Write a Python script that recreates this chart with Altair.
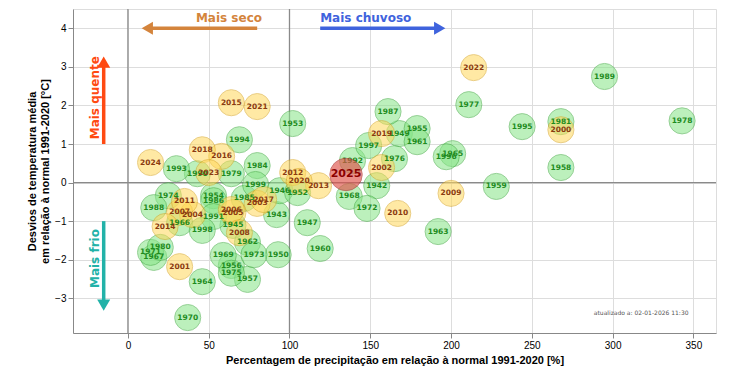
import altair as alt
import pandas as pd

# ---- data ----
years = [1942, 1943, 1945, 1946, 1947, 1949, 1950, 1952, 1953, 1954, 1955, 1956,
         1957, 1958, 1959, 1960, 1961, 1962, 1963, 1964, 1965, 1966, 1967, 1968,
         1969, 1970, 1971, 1972, 1973, 1974, 1975, 1976, 1977, 1978, 1979, 1980,
         1981, 1984, 1985, 1986, 1987, 1988, 1989, 1990, 1991, 1992, 1993, 1994,
         1995, 1996, 1997, 1998, 1999, 2000, 2001, 2002, 2003, 2004, 2005, 2006,
         2007, 2008, 2009, 2010, 2011, 2012, 2013, 2014, 2015, 2016, 2017, 2018,
         2019, 2020, 2021, 2022, 2023, 2024, 2025]
precip = [154, 92, 65, 94, 111, 168, 93, 105, 102, 53, 179, 64,
          74, 268, 228, 119, 179, 74, 192, 46, 201, 32, 16, 137,
          59, 37, 14, 148, 78, 25, 64, 165, 211, 343, 64, 20,
          268, 80, 72, 53, 161, 16, 295, 43, 53, 139, 30, 69,
          244, 197, 149, 46, 79, 268, 32, 157, 80, 40, 65, 64,
          32, 69, 200, 167, 35, 102, 118, 23, 64, 58, 84, 46,
          157, 106, 80, 214, 50, 14, 135]
temp = [-0.08, -0.83, -1.11, -0.21, -1.04, 1.27, -1.87, -0.26, 1.53, -0.34, 1.40, -2.15,
        -2.51, 0.39, -0.10, -1.71, 1.06, -1.55, -1.27, -2.57, 0.75, -1.04, -1.94, -0.36,
        -1.89, -3.50, -1.81, -0.67, -1.87, -0.34, -2.35, 0.62, 2.02, 1.60, 0.23, -1.68,
        1.58, 0.44, -0.41, -0.47, 1.84, -0.65, 2.75, 0.23, -0.88, 0.57, 0.36, 1.11,
        1.45, 0.67, 0.96, -1.24, -0.05, 1.37, -2.18, 0.39, -0.54, -0.83, -0.78, -0.70,
        -0.77, -1.30, -0.28, -0.80, -0.49, 0.26, -0.08, -1.14, 2.07, 0.68, -0.44, 0.85,
        1.27, 0.03, 1.97, 2.98, 0.26, 0.52, 0.21]

x_ticks = [0, 50, 100, 150, 200, 250, 300, 350]
y_ticks = [-3, -2, -1, 0, 1, 2, 3, 4]
ref_x = [0, 100]
ref_y = [0]

x_title = "Percentagem de precipitação em relação à normal 1991-2020 [%]"
y_title = ["Desvios de temperatura média", "em relação à normal 1991-2020 [°C]"]
stamp = "atualizado a: 02-01-2026 11:30"

# arrows: label, color, start x, start y, end x, end y, head shape, text x, text y, text align, angle
arr_labels = ["Mais seco", "Mais chuvoso", "Mais quente", "Mais frio"]
arr_colors = ["#D4843C", "#3F63DD", "#FF4A12", "#22B2A8"]
arr_x0 = [80, 119, -15, -15]
arr_y0 = [4.0, 4.0, 1.0, -1.0]
arr_x1 = [12, 193, -15, -15]
arr_y1 = [4.0, 4.0, 3.12, -3.18]
arr_shape = ["triangle-left", "triangle-right", "triangle-up", "triangle-down"]
txt_x = [83, 119, -20.5, -20.5]
txt_y = [4.27, 4.27, 2.2, -1.97]
txt_align = ["right", "left", "center", "center"]
txt_angle = [0, 0, 270, 270]

# ---- tables ----
df = pd.DataFrame({"year": years, "precip": precip, "temp": temp})
df["label"] = df["year"].astype(str)
df["grp"] = ["atual" if y == 2025 else ("recente" if y >= 2000 else "antigo") for y in years]
df_main = df[df["grp"] != "atual"]
df_now = df[df["grp"] == "atual"]

arrows = pd.DataFrame({"label": arr_labels, "color": arr_colors, "x0": arr_x0, "y0": arr_y0,
                       "x1": arr_x1, "y1": arr_y1, "shape": arr_shape, "tx": txt_x, "ty": txt_y,
                       "align": txt_align, "angle": txt_angle})

xs = alt.Scale(domain=[-34, 364], nice=False, zero=False)
ys = alt.Scale(domain=[-3.9, 4.5], nice=False, zero=False)

X = lambda f: alt.X(f, type="quantitative", scale=xs,
                    axis=alt.Axis(values=x_ticks, title=x_title, format="d"))
Y = lambda f: alt.Y(f, type="quantitative", scale=ys,
                    axis=alt.Axis(values=y_ticks, title=y_title, format="d"))

grp_dom = ["antigo", "recente"]

vrules = alt.Chart(pd.DataFrame({"x": ref_x})).mark_rule(color="#8a8a8a", strokeWidth=1.3).encode(x=X("x"))
hrules = alt.Chart(pd.DataFrame({"y": ref_y})).mark_rule(color="#8a8a8a", strokeWidth=1.3).encode(y=Y("y"))

circles = alt.Chart(df_main).mark_circle(size=680, opacity=0.55, strokeWidth=1).encode(
    x=X("precip"), y=Y("temp"),
    fill=alt.Fill("grp:N", scale=alt.Scale(domain=grp_dom, range=["#86E486", "#FFD85A"]), legend=None),
    stroke=alt.Stroke("grp:N", scale=alt.Scale(domain=grp_dom, range=["#3DAA3D", "#D9A520"]), legend=None),
    order=alt.Order("year:Q"),
)
labels = alt.Chart(df_main).mark_text(fontSize=7.5, fontWeight="bold", font="DejaVu Sans").encode(
    x=X("precip"), y=Y("temp"), text="label:N",
    color=alt.Color("grp:N", scale=alt.Scale(domain=grp_dom, range=["#1E8C1E", "#8B3A10"]), legend=None),
)
now_c = alt.Chart(df_now).mark_circle(size=1050, opacity=0.65, color="#E0524A",
                                      stroke="#B03030", strokeWidth=1).encode(x=X("precip"), y=Y("temp"))
now_t = alt.Chart(df_now).mark_text(fontSize=11, fontWeight="bold", font="DejaVu Sans",
                                    color="#8B0000").encode(x=X("precip"), y=Y("temp"), text="label:N")

shafts = alt.Chart(arrows).mark_rule(strokeWidth=3.5).encode(
    x=X("x0"), x2="x1", y=Y("y0"), y2="y1",
    color=alt.Color("color:N", scale=None))
heads = alt.Chart(arrows).mark_point(filled=True, size=170, opacity=1).encode(
    x=X("x1"), y=Y("y1"), shape=alt.Shape("shape:N", scale=None),
    color=alt.Color("color:N", scale=None))

atexts = []
for i in range(len(arr_labels)):
    atexts.append(alt.Chart(arrows.iloc[[i]]).mark_text(
        fontSize=12, fontWeight="bold", font="DejaVu Sans", align=txt_align[i],
        baseline="middle", angle=txt_angle[i]).encode(
        x=X("tx"), y=Y("ty"), text="label:N", color=alt.Color("color:N", scale=None)))

stamp_t = alt.Chart(pd.DataFrame({"x": [347], "y": [-3.39], "t": [stamp]})).mark_text(
    fontSize=6, color="#555", align="right", font="DejaVu Sans").encode(x=X("x"), y=Y("y"), text="t:N")

chart = alt.layer(vrules, hrules, circles, labels, now_c, now_t, shafts, heads, *atexts, stamp_t).properties(
    width=643, height=324, padding={"left": 18, "top": 0, "right": 5, "bottom": 5}
).configure_view(stroke="#8a8a8a", strokeWidth=1.5).configure_axis(
    grid=True, gridColor="#d0d0d0", gridDash=[2, 2], gridWidth=0.8,
    labelFont="DejaVu Sans", labelFontSize=10, labelColor="#333",
    titleFont="DejaVu Sans", titleFontSize=10, titleFontWeight="bold", titleColor="#111",
    tickColor="#888", domain=False, labelPadding=3,
).configure(background="white")

chart.save("out.html", embed_options={"renderer": "svg", "actions": False})
